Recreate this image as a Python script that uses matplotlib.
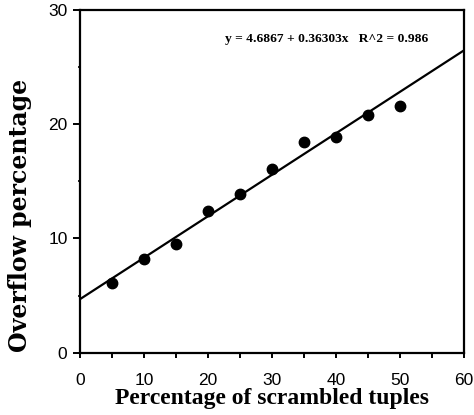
import matplotlib
matplotlib.use("Agg")
import matplotlib.pyplot as plt
from matplotlib.ticker import MultipleLocator

# Percentage of scrambled tuples vs. measured overflow percentage
scrambled_pct = [5, 10, 15, 20, 25, 30, 35, 40, 45, 50]
overflow_pct = [6.1, 8.2, 9.5, 12.4, 13.9, 16.05, 18.45, 18.85, 20.8, 21.6]

# Least-squares fit reported on the chart
intercept = 4.6867
slope = 0.36303
r_squared = 0.986

x_ticks = [0, 10, 20, 30, 40, 50, 60]
y_ticks = [0, 10, 20, 30]

fig = plt.figure(figsize=(4.74, 4.15), dpi=100)
ax = fig.add_axes([80 / 474, 1 - 352.7 / 415, 384 / 474, 342.7 / 415])

ax.set_xlim(0, 60)
ax.set_ylim(0, 30)

# fitted line across the full x range
fit_x = [0, 60]
fit_y = [intercept + slope * v for v in fit_x]
ax.plot(fit_x, fit_y, color="black", lw=1.6, solid_capstyle="butt", zorder=2)

ax.plot(scrambled_pct, overflow_pct, "o", color="black", ms=7.5, zorder=3)

ax.text(0.378, 0.915,
        f"y = {intercept} + {slope}x   R^2 = {r_squared}",
        transform=ax.transAxes, fontsize=9.7, fontweight="bold",
        family="Liberation Serif", ha="left", va="center")

for s in ax.spines.values():
    s.set_linewidth(1.6)

ax.set_xticks(x_ticks)
ax.set_yticks(y_ticks)
ax.xaxis.set_minor_locator(MultipleLocator(5))
ax.yaxis.set_minor_locator(MultipleLocator(5))
ax.tick_params(axis="x", which="major", direction="out", length=3.5, width=1.4,
               pad=11, labelsize=12.5)
ax.tick_params(axis="x", which="minor", direction="out", length=3.5, width=1.4)
ax.tick_params(axis="y", which="major", direction="out", length=5, width=1.4,
               pad=4, labelsize=12.5)
ax.tick_params(axis="y", which="minor", direction="out", length=1.5, width=1.2)
for lbl in ax.get_xticklabels() + ax.get_yticklabels():
    lbl.set_family("Liberation Sans")

ax.set_xlabel("Percentage of scrambled tuples", fontsize=17, fontweight="bold",
              family="Liberation Serif")
ax.set_ylabel("Overflow percentage", fontsize=17, fontweight="bold",
              family="DejaVu Serif")
ax.xaxis.set_label_coords(0.5, -0.103)
ax.yaxis.set_label_coords(-0.125, 0.40)

fig.savefig("out.png", dpi=100)
